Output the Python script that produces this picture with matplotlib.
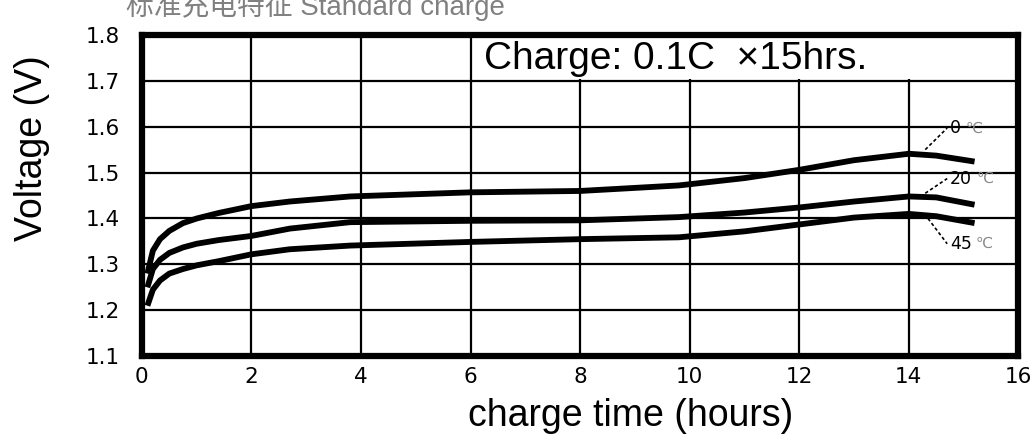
import matplotlib.pyplot as plt
from matplotlib.patches import Rectangle

# charge time (hours) and voltage readings for each temperature
hours = [0.1, 0.2, 0.33, 0.5, 0.75, 1.0, 1.4, 2, 2.7, 3.8, 6, 8, 9.8, 11, 12, 13, 14, 14.5, 15.2]
volt_0c = [1.28, 1.33, 1.355, 1.373, 1.39, 1.40, 1.412, 1.427, 1.437, 1.448, 1.457, 1.46, 1.472, 1.488, 1.506, 1.527, 1.541, 1.537, 1.524]
volt_20c = [1.25, 1.29, 1.31, 1.325, 1.337, 1.345, 1.353, 1.362, 1.378, 1.392, 1.395, 1.396, 1.403, 1.413, 1.424, 1.437, 1.448, 1.446, 1.43]
volt_45c = [1.21, 1.245, 1.265, 1.28, 1.29, 1.298, 1.307, 1.322, 1.333, 1.341, 1.349, 1.355, 1.359, 1.372, 1.387, 1.402, 1.41, 1.405, 1.39]

x_ticks = [0, 2, 4, 6, 8, 10, 12, 14, 16]
y_ticks = [1.1, 1.2, 1.3, 1.4, 1.5, 1.6, 1.7, 1.8]

# label text, point on the curve, label position
labels = [
    ('0', (14.3, 1.55), (14.75, 1.597)),
    ('20', (14.3, 1.455), (14.75, 1.487)),
    ('45', (14.35, 1.40), (14.75, 1.345)),
]

fig = plt.figure(figsize=(10.36, 4.36), dpi=100)
ax = fig.add_axes([0.137, 0.183, 0.846, 0.737])

# grid drawn by hand so the note box can sit on top of it
for x in x_ticks[1:-1]:
    ax.axvline(x, color='black', lw=1.6, zorder=1)
for y in y_ticks[1:-1]:
    ax.axhline(y, color='black', lw=1.6, zorder=1)

ax.add_patch(Rectangle((6.04, 1.703), 10, 0.2, facecolor='white', edgecolor='none', zorder=2))
ax.text(6.25, 1.748, 'Charge: 0.1C  \u00d715hrs.', fontsize=28, family='Liberation Sans',
        va='center', ha='left', zorder=3)

for v in (volt_0c, volt_20c, volt_45c):
    ax.plot(hours, v, color='black', lw=4.2, solid_capstyle='butt', solid_joinstyle='round', zorder=4)

for name, p_curve, p_text in labels:
    ax.plot([p_curve[0], p_text[0] - 0.05], [p_curve[1], p_text[1]], color='black',
            lw=1.2, ls=(0, (2, 1.5)), zorder=4)
    t = ax.text(p_text[0], p_text[1], name, fontsize=12.5, va='center', ha='left', zorder=5)
    ax.annotate('\u2103', xy=(1, 0.5), xycoords=t, xytext=(3, 0), textcoords='offset points',
                fontsize=11, color='#888888', va='center', ha='left',
                family=['DejaVu Sans', 'Noto Sans CJK SC'])

ax.set_xlim(0, 16)
ax.set_ylim(1.1, 1.8)
ax.set_xticks(x_ticks)
ax.set_yticks(y_ticks)
ax.set_xticklabels([str(x) for x in x_ticks])
ax.set_yticklabels(['%.1f' % y for y in y_ticks])
ax.tick_params(axis='both', length=0, labelsize=15.5)
ax.tick_params(axis='y', pad=16)
ax.tick_params(axis='x', pad=8)
for s in ax.spines.values():
    s.set_linewidth(4.5)

ax.set_xlabel('charge time (hours)', fontsize=27, family='Liberation Sans')
ax.xaxis.set_label_coords(0.558, -0.13, transform=ax.transAxes)
ax.xaxis.label.set_va('top')
ax.set_ylabel('Voltage (V)', fontsize=27, family='Liberation Sans')
ax.yaxis.set_label_coords(-0.125, 0.648)
ax.yaxis.label.set_va('center')

fig.text(0.122, 1 - 15 / 436, '标准充电特征 Standard charge', fontsize=20, color='#808080',
         family=['Liberation Sans', 'Noto Sans CJK SC'], va='baseline', ha='left')

fig.savefig('out.png', dpi=100)
